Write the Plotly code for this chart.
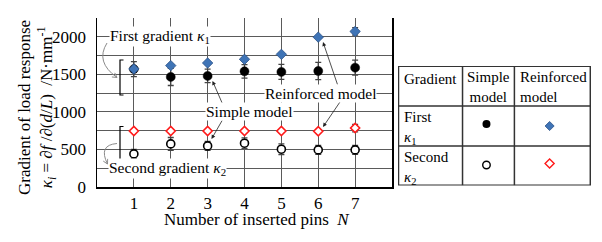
import math
import plotly.graph_objects as go

# ---------------- data ----------------
N = [1, 2, 3, 4, 5, 6, 7]
simple_k1 = [1570, 1466, 1479, 1540, 1532, 1545, 1589]
simple_k1_err = [100, 115, 90, 90, 100, 115, 100]
reinf_k1 = [1572, 1616, 1651, 1700, 1766, 1995, 2071]
reinf_k1_err = [0, 0, 0, 0, 0, 0, 50]
simple_k2 = [441, 574, 547, 583, 503, 494, 494]
simple_k2_err = [60, 85, 60, 70, 70, 60, 60]
reinf_k2 = [745, 745, 745, 745, 745, 742, 785]
reinf_k2_err = [0, 0, 0, 0, 0, 0, 50]

y_tickvals = [0, 250, 500, 750, 1000, 1250, 1500, 1750, 2000, 2250]
y_ticktext = ["0", "", "500", "", "1000", "", "1500", "", "2000", ""]

FONT = "Liberation Serif, Times New Roman, serif"
BLUE = "#3f74b6"
BLUE_EDGE = "#2b5288"
RED = "#ff1a1a"
GRID = "#5a5a5a"

# pixel layout of the main plot area
L, R, T, B = 97, 392, 18, 187
XR = (0, 8)
YR = (0, 2250)


def dx(px):
    return XR[0] + (px - L) / (R - L) * (XR[1] - XR[0])


def dy(py):
    return YR[0] + (B - py) / (B - T) * (YR[1] - YR[0])


def path_px(points):
    s = ""
    for i, (a, b) in enumerate(points):
        s += ("M" if i == 0 else "L") + f"{dx(a):.4f},{dy(b):.4f} "
    return s


def curve_px(p0, c, p1):
    return (f"M{dx(p0[0]):.4f},{dy(p0[1]):.4f} Q{dx(c[0]):.4f},{dy(c[1]):.4f} "
            f"{dx(p1[0]):.4f},{dy(p1[1]):.4f}")


def head_px(tip, c):
    vx, vy = tip[0] - c[0], tip[1] - c[1]
    n = math.hypot(vx, vy)
    vx, vy = vx / n, vy / n
    px_, py_ = -vy, vx
    back = 4.5
    w = 2.5
    a = (tip[0] - vx * back + px_ * w, tip[1] - vy * back + py_ * w)
    b = (tip[0] - vx * back - px_ * w, tip[1] - vy * back - py_ * w)
    return path_px([a, tip, b])


fig = go.Figure()

err_style = dict(type="data", color="#444444", thickness=1.3, width=3)

fig.add_trace(go.Scatter(
    x=N, y=simple_k2, mode="markers",
    marker=dict(symbol="circle", size=8, color="white", line=dict(color="black", width=1.6)),
    error_y=dict(array=simple_k2_err, **err_style), showlegend=False))
fig.add_trace(go.Scatter(
    x=N, y=reinf_k2, mode="markers",
    marker=dict(symbol="diamond", size=7, color="white", line=dict(color=RED, width=1.6)),
    error_y=dict(array=reinf_k2_err, **err_style), showlegend=False))
fig.add_trace(go.Scatter(
    x=N, y=simple_k1, mode="markers",
    marker=dict(symbol="circle", size=9, color="black", line=dict(color="black", width=0.5)),
    error_y=dict(array=simple_k1_err, **err_style), showlegend=False))
fig.add_trace(go.Scatter(
    x=N, y=reinf_k1, mode="markers",
    marker=dict(symbol="diamond", size=8, color=BLUE, line=dict(color=BLUE_EDGE, width=0.8)),
    error_y=dict(array=reinf_k1_err, **err_style), showlegend=False))

# ---------------- table (legend) ----------------
TX0, TX1, TY0, TY1 = 398, 591.5, 66, 185.5
fig.add_trace(go.Scatter(
    x=[486.7], y=[124], xaxis="x2", yaxis="y2", mode="markers",
    marker=dict(symbol="circle", size=8, color="black"), showlegend=False, cliponaxis=False))
fig.add_trace(go.Scatter(
    x=[550], y=[126], xaxis="x2", yaxis="y2", mode="markers",
    marker=dict(symbol="diamond", size=7, color=BLUE, line=dict(color=BLUE_EDGE, width=0.8)),
    showlegend=False, cliponaxis=False))
fig.add_trace(go.Scatter(
    x=[486.7], y=[165], xaxis="x2", yaxis="y2", mode="markers",
    marker=dict(symbol="circle", size=7.5, color="white", line=dict(color="black", width=1.4)),
    showlegend=False, cliponaxis=False))
fig.add_trace(go.Scatter(
    x=[550], y=[163.5], xaxis="x2", yaxis="y2", mode="markers",
    marker=dict(symbol="diamond", size=7, color="white", line=dict(color=RED, width=1.4)),
    showlegend=False, cliponaxis=False))

shapes = []
tline = dict(color="#333333", width=1.5)
shapes.append(dict(type="rect", xref="x2", yref="y2", x0=398.5, x1=590.8, y0=66.3, y1=185.2, line=tline))
for xv in (462.7, 514.7):
    shapes.append(dict(type="line", xref="x2", yref="y2", x0=xv, x1=xv, y0=66.3, y1=185.2, line=tline))
for yv in (106, 146):
    shapes.append(dict(type="line", xref="x2", yref="y2", x0=398.5, x1=590.8, y0=yv, y1=yv, line=tline))

# brackets
bl = dict(color="black", width=1.2)
shapes.append(dict(type="path", xref="x", yref="y", path=path_px([(123.5, 60), (120, 60), (120, 95), (123.5, 95)]), line=bl))
shapes.append(dict(type="path", xref="x", yref="y", path=path_px([(123.5, 126.5), (120, 126.5), (120, 160), (123.5, 160)]), line=bl))

# curved gray arrows
gl = dict(color="#8a8a8a", width=1)
c1 = ((107, 43), (95, 62), (117, 77.5))
shapes.append(dict(type="path", xref="x", yref="y", path=curve_px(*c1), line=gl))
shapes.append(dict(type="path", xref="x", yref="y", path=head_px(c1[2], c1[1]), line=gl))
c2 = ((117, 143.5), (98, 145), (107.5, 164))
shapes.append(dict(type="path", xref="x", yref="y", path=curve_px(*c2), line=gl))
shapes.append(dict(type="path", xref="x", yref="y", path=head_px(c2[2], c2[1]), line=gl))

annotations = []


def arrow(tail, head):
    annotations.append(dict(
        x=dx(head[0]), y=dy(head[1]), ax=dx(tail[0]), ay=dy(tail[1]),
        xref="x", yref="y", axref="x", ayref="y", text="", showarrow=True,
        arrowhead=2, arrowsize=1, arrowwidth=0.8, arrowcolor="#222222"))


arrow((223, 105), (212.5, 81))
arrow((223, 119), (211.5, 139))
arrow((338, 86), (323, 42))
arrow((342, 99), (323, 127))

lab_font = dict(family=FONT, size=15.5, color="black")
for txt, px, yv in [
    ("First gradient <i>κ</i><sub>1</sub>", 160, 2000),
    ("Second gradient <i>κ</i><sub>2</sub>", 167.5, 250),
    ("Simple model", 249, 1000),
    ("Reinforced model", 320, 1250),
]:
    annotations.append(dict(x=dx(px), y=yv, xref="x", yref="y", text=txt, showarrow=False,
                            font=lab_font, bgcolor="white", borderpad=0, xanchor="center",
                            yanchor="middle"))

# axis titles
PW = 602 - L - 11
annotations.append(dict(
    xref="paper", yref="paper", x=(37 - L) / PW, y=(B - 108) / (B - T),
    text="Gradient of load response<br><i>κ<sub>i</sub></i> = ∂<i>f</i> /∂(<i>d</i>/<i>L</i>)\u00a0\u00a0/N·mm<sup>-1</sup>",
    textangle=-90, showarrow=False, font=dict(family=FONT, size=17, color="black"),
    xanchor="center", yanchor="middle", align="center"))
annotations.append(dict(
    xref="paper", yref="paper", x=(257 - L) / PW, y=(B - 220) / (B - T),
    text="Number of inserted pins\u00a0\u00a0<i>N</i>", showarrow=False,
    font=dict(family=FONT, size=17, color="black"), xanchor="center", yanchor="middle"))

# table text
tf = dict(family=FONT, size=15, color="black")
for txt, x, y, xa in [
    ("Gradient", 402.5, 79, "left"),
    ("Simple<br>model", 488.7, 86.5, "center"),
    ("Reinforced<br>model", 518.5, 86.5, "left"),
    ("First<br><i>κ</i><sub>1</sub>", 402.5, 127.5, "left"),
    ("Second<br><i>κ</i><sub>2</sub>", 402.5, 167.5, "left"),
]:
    annotations.append(dict(x=x, y=y, xref="x2", yref="y2", text=txt, showarrow=False,
                            font=tf, xanchor=xa, yanchor="middle", align=xa))

fig.update_layout(
    width=602, height=242,
    margin=dict(l=L, r=11, t=T, b=242 - B, pad=0),
    paper_bgcolor="white", plot_bgcolor="white",
    font=dict(family=FONT, size=17, color="black"),
    showlegend=False,
    xaxis=dict(domain=[0, (R - L) / PW], range=list(XR), tickvals=N, ticktext=[str(n) for n in N],
               showgrid=True, gridcolor=GRID, gridwidth=1, zeroline=False,
               showline=True, linecolor="black", linewidth=1.5, mirror=False,
               ticks="", tickfont=dict(family=FONT, size=17, color="black"), fixedrange=True),
    yaxis=dict(range=list(YR), tickvals=y_tickvals, ticktext=y_ticktext,
               showgrid=True, gridcolor=GRID, gridwidth=1, zeroline=False,
               showline=True, linecolor="black", linewidth=1.5, mirror=True,
               ticks="", ticklabelstandoff=6, tickfont=dict(family=FONT, size=17, color="black"),
               fixedrange=True),
    xaxis2=dict(domain=[(TX0 - L) / PW, 1], range=[TX0, TX1], anchor="y2", visible=False, fixedrange=True),
    yaxis2=dict(domain=[(B - TY1) / (B - T), (B - TY0) / (B - T)], range=[TY1, TY0], anchor="x2",
                visible=False, fixedrange=True),
    shapes=shapes,
    annotations=annotations,
)

fig.write_html("out.html", config={"displayModeBar": False, "staticPlot": True},
               post_script="document.body.style.margin='0';document.body.style.padding='0';")
